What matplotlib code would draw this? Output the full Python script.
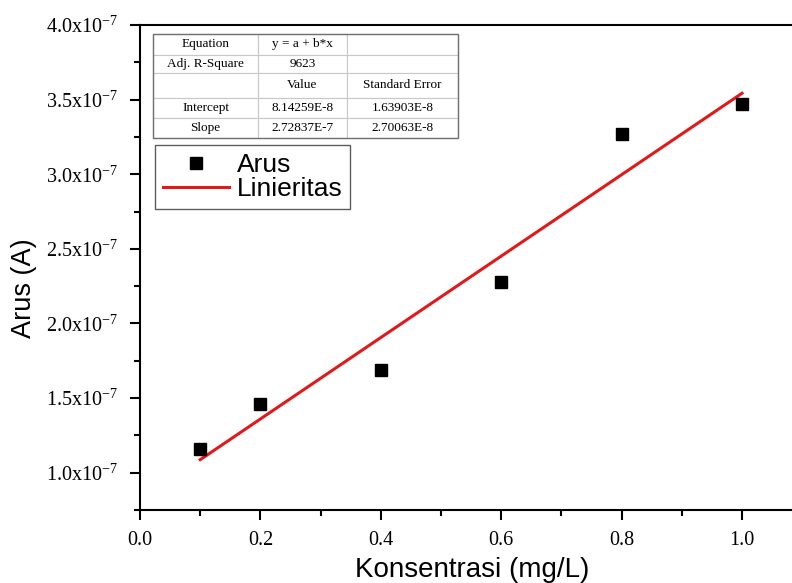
import numpy as np
import matplotlib.pyplot as plt
from matplotlib.ticker import MultipleLocator, FuncFormatter
from matplotlib.patches import Rectangle

plt.rcParams['mathtext.fontset'] = 'custom'
plt.rcParams['mathtext.rm'] = 'Liberation Serif'
plt.rcParams['mathtext.it'] = 'Liberation Serif:italic'

# data
konsentrasi = [0.1, 0.2, 0.4, 0.6, 0.8, 1.0]
arus = [1.161e-7, 1.462e-7, 1.687e-7, 2.278e-7, 3.272e-7, 3.473e-7]

# linear fit results (from the table in the chart)
intercept = 8.14259e-8
slope = 2.72837e-7

table_rows = [
    ["Equation", "y = a + b*x", ""],
    ["Adj. R-Square", "9623", ""],
    ["", "Value", "Standard Error"],
    ["Intercept", "8.14259E-8", "1.63903E-8"],
    ["Slope", "2.72837E-7", "2.70063E-8"],
]
col_widths = [105, 89, 111]
row_heights = [21, 18, 25, 20, 20]

fig = plt.figure(figsize=(7.92, 5.83), dpi=100)
ax = fig.add_axes([140/792, 1 - 510/583, 652/792, 485/583])

ax.plot(konsentrasi, arus, 's', color='black', ms=8.5, label='Arus', zorder=3)
xfit = np.array([min(konsentrasi), max(konsentrasi)])
ax.plot(xfit, intercept + slope * xfit, '-', color='#e01a1a', lw=2.2, label='Linieritas', zorder=2)

ax.set_xlim(0, 1.083)
ax.set_ylim(0.75e-7, 4.0e-7)
ax.xaxis.set_major_locator(MultipleLocator(0.2))
ax.xaxis.set_minor_locator(MultipleLocator(0.1))
ax.yaxis.set_major_locator(MultipleLocator(0.5e-7))
ax.yaxis.set_minor_locator(MultipleLocator(0.25e-7))
ax.xaxis.set_major_formatter(FuncFormatter(lambda v, p: f"{v:.1f}"))
ax.yaxis.set_major_formatter(FuncFormatter(lambda v, p: f"{v*1e7:.1f}x10$^{{-7}}$"))

for s in ax.spines.values():
    s.set_linewidth(1.5)
ax.spines['right'].set_visible(False)
ax.tick_params(which='major', direction='out', length=7, width=1.5, labelsize=14.5, pad=8)
ax.tick_params(which='minor', direction='out', length=4, width=1.5)
ax.tick_params(axis='y', pad=9)
for lab in ax.get_xticklabels() + ax.get_yticklabels():
    lab.set_fontfamily('Liberation Serif')

ax.set_xlabel('Konsentrasi (mg/L)', fontsize=20, fontfamily='Liberation Sans')
ax.set_ylabel('Arus (A)', fontsize=19.5, fontfamily='Liberation Sans')
ax.xaxis.set_label_coords(0.51, -0.097)
ax.yaxis.set_label_coords(-0.158, 0.458)

leg = ax.legend(loc='upper left', bbox_to_anchor=(0.023, 0.7526), borderaxespad=0,
                prop={'family': 'Liberation Sans', 'size': 19}, frameon=True, fancybox=False,
                handlelength=2.5, handletextpad=0.3, borderpad=0.3, labelspacing=0.0,
                markerscale=1.0)
leg.get_frame().set_edgecolor('#333333')
leg.get_frame().set_linewidth(1.0)

# fit table
tx0, ty1 = (153 - 140) / 652, (510 - 34) / 485
tw, th = 305 / 652, sum(row_heights) / 485
tbl = ax.table(cellText=table_rows, colWidths=[w / sum(col_widths) for w in col_widths],
               cellLoc='center', bbox=[tx0, ty1 - th, tw, th], zorder=4)
tbl.auto_set_font_size(False)
for (r, c), cell in tbl.get_celld().items():
    cell.set_height(row_heights[r])
    cell.set_edgecolor('#c8c8c8')
    cell.set_linewidth(0.8)
    cell.get_text().set_fontsize(9.5)
    cell.get_text().set_fontfamily('Liberation Serif')
ax.add_patch(Rectangle((tx0, ty1 - th), tw, th, transform=ax.transAxes, fill=False,
                       edgecolor='#707070', lw=1.0, zorder=5))

fig.savefig('out.png', dpi=100)
